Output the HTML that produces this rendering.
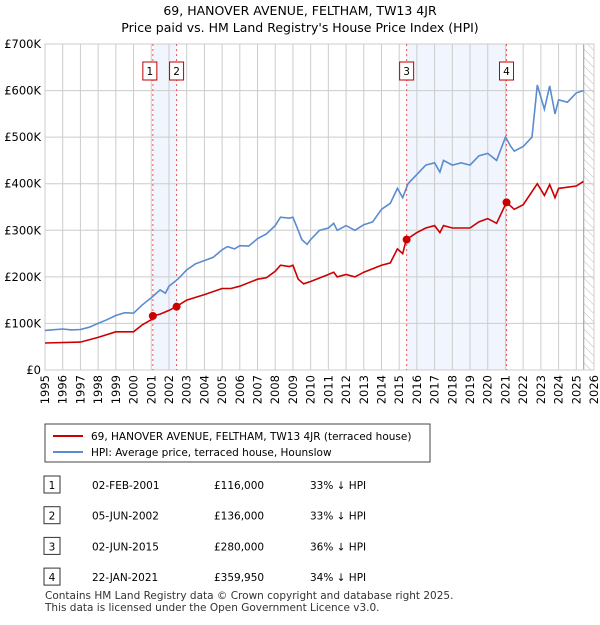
<!DOCTYPE html>
<html><head><meta charset="utf-8"><style>
body{margin:0;background:#fff;font-family:"Liberation Sans","DejaVu Sans",sans-serif;}
svg text{font-family:"DejaVu Sans","Liberation Sans",sans-serif;}
</style></head><body>
<svg id="c" width="600" height="620" xmlns="http://www.w3.org/2000/svg">
<defs><pattern id="hatch" width="6" height="6" patternUnits="userSpaceOnUse" patternTransform="rotate(-45)"><line x1="0" y1="0" x2="0" y2="6" stroke="#bbb" stroke-width="1"/></pattern></defs>
<text x="300" y="15" text-anchor="middle" font-size="12.5">69, HANOVER AVENUE, FELTHAM, TW13 4JR</text>
<text x="300" y="32" text-anchor="middle" font-size="12.5">Price paid vs. HM Land Registry's House Price Index (HPI)</text>
<g id="plot"></g>
<g>
<rect x="45" y="424" width="385" height="38" fill="#fff" stroke="#444"/>
<line x1="53" y1="436" x2="83" y2="436" stroke="#cc0000" stroke-width="2"/>
<text x="91" y="440" font-size="10.5">69, HANOVER AVENUE, FELTHAM, TW13 4JR (terraced house)</text>
<line x1="53" y1="452" x2="83" y2="452" stroke="#5b8ccf" stroke-width="2"/>
<text x="91" y="456" font-size="10.5">HPI: Average price, terraced house, Hounslow</text>
</g>
<g id="tbl" font-size="10.5"></g>
<text x="45" y="599" font-size="10.5" fill="#333">Contains HM Land Registry data © Crown copyright and database right 2025.</text>
<text x="45" y="611" font-size="10.5" fill="#333">This data is licensed under the Open Government Licence v3.0.</text>
</svg>
<script>
const hpiYears=[1995,1996,1996.5,1997,1997.5,1998,1998.5,1999,1999.5,2000,2000.5,2001,2001.5,2001.8,2002,2002.5,2003,2003.5,2004,2004.5,2005,2005.3,2005.7,2006,2006.5,2007,2007.5,2008,2008.3,2008.8,2009,2009.3,2009.5,2009.8,2010,2010.5,2011,2011.3,2011.5,2012,2012.5,2013,2013.5,2014,2014.5,2014.9,2015.2,2015.5,2016,2016.5,2017,2017.3,2017.5,2018,2018.5,2019,2019.5,2020,2020.5,2021,2021.3,2021.5,2022,2022.5,2022.8,2023.2,2023.5,2023.8,2024,2024.5,2025,2025.4];
const hpiValues=[85,88,86,87,92,100,108,117,123,122,140,155,172,165,180,195,215,228,235,242,258,265,260,267,266,282,292,310,328,326,328,300,280,270,280,300,305,315,300,310,300,312,318,345,358,390,370,400,420,440,445,425,450,440,445,440,460,465,450,500,480,470,480,500,612,560,610,550,580,575,595,600];
const ppYears=[1995,1997,1998,1999,2000,2000.5,2001,2001.1,2001.5,2002,2002.4,2003,2004,2005,2005.5,2006,2007,2007.5,2008,2008.3,2008.8,2009,2009.3,2009.6,2010,2011,2011.3,2011.5,2012,2012.5,2013,2014,2014.5,2014.9,2015.2,2015.4,2016,2016.5,2017,2017.3,2017.5,2018,2019,2019.5,2020,2020.5,2021.06,2021.5,2022,2022.8,2023.2,2023.5,2023.8,2024,2025,2025.4];
const ppValues=[58,60,70,82,82,97,108,116,120,128,136,150,162,175,175,180,195,198,212,225,222,225,195,185,190,205,210,200,205,200,210,225,230,260,250,280,295,305,310,295,310,305,305,318,325,315,360,345,355,400,375,398,370,390,395,405];
const saleLabels=["1","2","3","4"];
const saleDates=[2001.09,2002.43,2015.42,2021.06];
const salePrices=[116,136,280,359.95];
const saleDateText=["02-FEB-2001","05-JUN-2002","02-JUN-2015","22-JAN-2021"];
const salePriceText=["£116,000","£136,000","£280,000","£359,950"];
const saleHpiText=["33% ↓ HPI","33% ↓ HPI","36% ↓ HPI","34% ↓ HPI"];
const yTicks=[0,100,200,300,400,500,600,700];
const yTickLabels=["£0","£100K","£200K","£300K","£400K","£500K","£600K","£700K"];
const xTicks=[1995,1996,1997,1998,1999,2000,2001,2002,2003,2004,2005,2006,2007,2008,2009,2010,2011,2012,2013,2014,2015,2016,2017,2018,2019,2020,2021,2022,2023,2024,2025,2026];
const dataEnd=2025.42;

const L=45,R=594,T=44,B=370;
const X=y=>L+(y-1995)/(2026-1995)*(R-L);
const Y=v=>B-v/700*(B-T);
const NS="http://www.w3.org/2000/svg";
const g=document.getElementById('plot');
function mk(tag,at,parent){const e=document.createElementNS(NS,tag);for(const k in at)e.setAttribute(k,at[k]);(parent||g).appendChild(e);return e;}
// shading
for(let i=0;i<saleDates.length;i+=2){
 const r=mk('rect',{x:X(saleDates[i]),y:T,width:X(saleDates[i+1])-X(saleDates[i]),height:B-T,fill:'#eef3fc',opacity:0.8});
 
 
}
// hatch
const h=mk('rect',{x:X(dataEnd),y:T,width:R-X(dataEnd),height:B-T,fill:'url(#hatch)'});


// grid
yTicks.forEach((v,i)=>{
 const l=mk('line',{x1:L,x2:R,y1:Y(v),y2:Y(v),stroke:'#ccc'});
 
 
 const t=mk('text',{x:L-4,y:Y(v)+4,'text-anchor':'end','font-size':'11.5'});t.textContent=yTickLabels[i];
 
 
});
xTicks.forEach(yr=>{
 const l=mk('line',{x1:X(yr),x2:X(yr),y1:T,y2:B,stroke:'#ccc'});
 
 
 const t=mk('text',{x:0,y:0,'text-anchor':'end','font-size':'11.5',transform:`translate(${X(yr)+4},${B+5}) rotate(-90)`});t.textContent=yr;
 
 
});
const end=mk('line',{x1:X(dataEnd),x2:X(dataEnd),y1:T,y2:B,stroke:'#999'});


const fr=mk('rect',{x:L,y:T,width:R-L,height:B-T,fill:'none',stroke:'#ccc'});


// sale lines + labels
saleDates.forEach((d,i)=>{
 const l=mk('line',{x1:X(d),x2:X(d),y1:T,y2:B,stroke:'#e55','stroke-dasharray':'2,3'});
 
 
 const bx=X(d)+(i%2===0&&i<2?-3:0)-7;
 const b=mk('rect',{x:bx,y:62,width:14,height:18,fill:'#fff',stroke:'#b00'});
 
 
 const t=mk('text',{x:bx+7,y:75,'text-anchor':'middle','font-size':'10.5'});t.textContent=saleLabels[i];
 
 
});
function pts(xs,vs){return xs.map((x,i)=>X(x).toFixed(1)+','+Y(vs[i]).toFixed(1)).join(' ');}
const hp=mk('polyline',{points:pts(hpiYears,hpiValues),fill:'none',stroke:'#5b8ccf','stroke-width':1.6});


const pp=mk('polyline',{points:pts(ppYears,ppValues),fill:'none',stroke:'#cc0000','stroke-width':1.6});


saleDates.forEach((d,i)=>{
 const c=mk('circle',{cx:X(d),cy:Y(salePrices[i]),r:4,fill:'#cc0000'});
 
 
});
// table
const tb=document.getElementById('tbl');
saleDates.forEach((d,i)=>{
 const y=487+i*30.7;
 const b=mk('rect',{x:44,y:y-11,width:16,height:17,fill:'#fff',stroke:'#333'},tb);
 
 
 const cells=[[52,saleLabels[i],'middle'],[92,saleDateText[i],'start'],[214,salePriceText[i],'start'],[310,saleHpiText[i],'start']];
 cells.forEach(c=>{const t=mk('text',{x:c[0],y:y+2,'text-anchor':c[2]},tb);t.textContent=c[1];
  
  });
});
</script>
</body></html>
